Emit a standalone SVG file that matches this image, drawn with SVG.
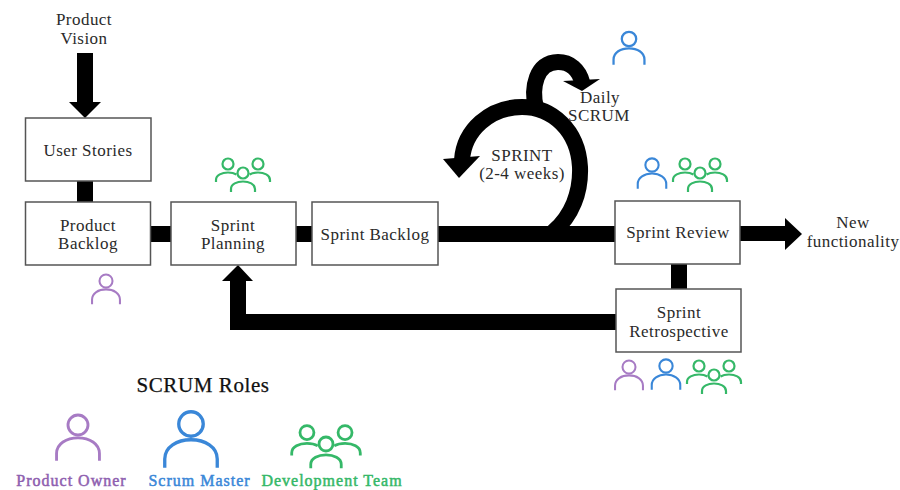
<svg xmlns="http://www.w3.org/2000/svg" xmlns:xlink="http://www.w3.org/1999/xlink" width="900" height="490" viewBox="0 0 900 490">
<style>
text{font-family:"Liberation Serif","Times New Roman",serif;font-size:17px;letter-spacing:.45px;fill:#2a2a2a;text-anchor:middle}
.box{fill:#fff;stroke:#555;stroke-width:1.5}
.conn{fill:#000;stroke:none}
.arc{fill:none;stroke:#000;stroke-width:16}
.ic{fill:none;stroke-linecap:butt}
.pu{stroke:#a77bc4}
.bl{stroke:#3a87d8}
.gr{stroke:#35b868}
.title{font-size:21px;fill:#111;letter-spacing:.6px;stroke:#111;stroke-width:.25px}
.lab{font-size:16px;letter-spacing:1px;stroke-width:.5px}
</style>
<defs>
<g id="person"><circle cx="0" cy="0" r="7"/><path d="M-15 25V20C-15 13-8 9 0 9C8 9 15 13 15 20V25"/></g>
<g id="team"><circle cx="0" cy="0" r="5.500"/><circle cx="-15" cy="-9" r="5.500"/><circle cx="15" cy="-9" r="5.500"/><path d="M-12 19V16C-12 11-6 8.500 0 8.500C6 8.500 12 11 12 16V19"/><path d="M-27 9V7C-27 2-21-.5-15-.5C-12-.5-9 0-6.500 1.500"/><path d="M27 9V7C27 2 21-.5 15-.5C12-.5 9 0 6.500 1.500"/></g>
</defs>
<g id="connectors">
<path class="conn" d="M77 53H93V102H101L85 118L69 102H77Z"/>
<rect class="conn" x="77" y="181" width="16" height="21"/>
<rect class="conn" x="150" y="226" width="21" height="16"/>
<rect class="conn" x="296" y="226" width="16" height="16"/>
<rect class="conn" x="438" y="226" width="177" height="16"/>
<path class="conn" d="M740 226H785V218L802 234L785 250V241H740Z"/>
<rect class="conn" x="671" y="264" width="16" height="25"/>
<path class="conn" d="M616 314V330H230V281H222L238 265L253 281H246V314Z"/>
<path class="arc" d="M553 232C572 216 581 192 580 167C578 130 552 107 522 107C490 107 464 130 462 160"/>
<path class="arc" d="M536 108C531 88 536 62 558 62C570 62 579 70 582 82"/>
<path class="conn" d="M443 159L480 156L459 178Z"/>
<path class="conn" d="M563 81L600 79L582 91Z"/>
</g>
<g id="product-vision"><text x="84" y="25">Product</text><text x="84" y="44">Vision</text></g>
<g id="user-stories"><rect class="box" x="25.5" y="118" width="125.500" height="63"/><text x="88" y="156">User Stories</text></g>
<g id="product-backlog"><rect class="box" x="25.5" y="202" width="125" height="63"/><text x="88" y="231">Product</text><text x="88" y="249">Backlog</text></g>
<g id="sprint-planning"><rect class="box" x="171" y="202" width="125" height="63"/><text x="233" y="231">Sprint</text><text x="233" y="249">Planning</text></g>
<g id="sprint-backlog"><rect class="box" x="312" y="202" width="126" height="63"/><text x="375" y="240">Sprint Backlog</text></g>
<g id="sprint-review"><rect class="box" x="615" y="201" width="125" height="63"/><text x="678" y="238">Sprint Review</text></g>
<g id="sprint-retrospective"><rect class="box" x="616" y="289" width="125" height="63"/><text x="679" y="318">Sprint</text><text x="679" y="337">Retrospective</text></g>
<g id="new-functionality"><text x="853" y="228">New</text><text x="853" y="247">functionality</text></g>
<g id="daily-scrum"><text x="600" y="103">Daily</text><text x="599" y="121">SCRUM</text></g>
<g id="sprint-label"><text x="522" y="161">SPRINT</text><text x="522" y="179">(2-4 weeks)</text></g>
<g id="icons">
<use href="#person" class="ic pu" stroke-width="2.2" transform="translate(106 281) scale(.93)"/>
<use href="#team" class="ic gr" stroke-width="2.2" transform="translate(243 173)"/>
<use href="#person" class="ic bl" stroke-width="2.2" transform="translate(629 39) scale(1.03)"/>
<use href="#person" class="ic bl" stroke-width="2.2" transform="translate(652 165) scale(.95)"/>
<use href="#team" class="ic gr" stroke-width="2.2" transform="translate(700 173)"/>
<use href="#person" class="ic pu" stroke-width="2.2" transform="translate(629 367) scale(.93)"/>
<use href="#person" class="ic bl" stroke-width="2.2" transform="translate(666 366) scale(.95)"/>
<use href="#team" class="ic gr" stroke-width="2.2" transform="translate(714 375)"/>
</g>
<g id="scrum-roles">
<text class="title" x="203" y="392">SCRUM Roles</text>
<g id="role-product-owner"><use href="#person" class="ic pu" stroke-width="2" transform="translate(78 425) scale(1.43)"/><text class="lab" x="71.500" y="486" style="fill:#8f5fb0;stroke:#8f5fb0">Product Owner</text></g>
<g id="role-scrum-master"><use href="#person" class="ic bl" stroke-width="1.9" transform="translate(191 424) scale(1.75)"/><text class="lab" x="199.500" y="486" style="fill:#3a87d8;stroke:#3a87d8">Scrum Master</text></g>
<g id="role-development-team"><use href="#team" class="ic gr" stroke-width="2.2" transform="translate(326 444) scale(1.27)"/><text class="lab" x="332" y="486" style="fill:#35b868;stroke:#35b868">Development Team</text></g>
</g>
</svg>
